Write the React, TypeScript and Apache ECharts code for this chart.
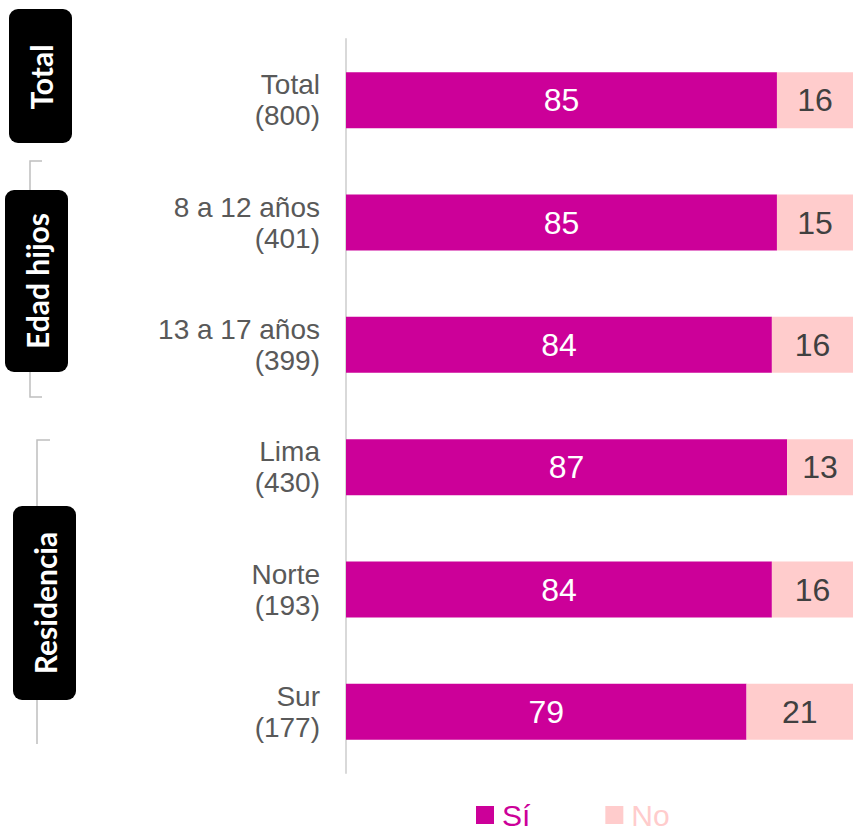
import React, { useEffect, useRef } from "react";
import * as echarts from "echarts";

const categories = ["Total\n(800)", "8 a 12 años\n(401)", "13 a 17 años\n(399)", "Lima\n(430)", "Norte\n(193)", "Sur\n(177)"];
const siValues = [85, 85, 84, 87, 84, 79];
const noValues = [16, 15, 16, 13, 16, 21];
const seriesNames = ["Sí", "No"];
const groupLabels = ["Total", "Edad hijos", "Residencia"];

const SI_COLOR = "#CC0099";
const NO_COLOR = "#FFCCCC";

export default function App() {
  const ref = useRef<HTMLDivElement>(null);
  useEffect(() => {
    if (!ref.current) return;
    const chart = echarts.init(ref.current, null, { renderer: "svg" });
    const boxFont = "bold 30px Lato";
    chart.setOption({
      animation: false,
      backgroundColor: "#ffffff",
      grid: { left: 346, right: 1, top: 39, bottom: 63, containLabel: false },
      xAxis: { type: "value", min: 0, max: 100, show: false },
      yAxis: {
        type: "category",
        inverse: true,
        data: categories,
        axisLine: { show: true, lineStyle: { color: "#D9D9D9", width: 2 } },
        axisTick: { show: false },
        axisLabel: {
          margin: 26,
          fontSize: 28,
          lineHeight: 31,
          color: "#595959",
          fontFamily: "Liberation Sans, Arial, sans-serif",
          align: "right",
        },
        splitLine: { show: false },
      },
      legend: {
        left: 476,
        top: 799,
        padding: 0,
        icon: "rect",
        itemWidth: 18,
        itemHeight: 18,
        itemGap: 75,
        textStyle: {
          fontSize: 30,
          lineHeight: 32,
          fontFamily: "Liberation Sans, Arial, sans-serif",
          padding: [0, 0, 0, 3],
        },
        data: [
          { name: seriesNames[0], textStyle: { color: SI_COLOR } },
          { name: seriesNames[1], textStyle: { color: NO_COLOR } },
        ],
      },
      series: [
        {
          name: seriesNames[0],
          type: "bar",
          stack: "a",
          barWidth: 56,
          data: siValues,
          itemStyle: { color: SI_COLOR },
          label: {
            show: true,
            position: "inside",
            color: "#ffffff",
            fontSize: 32,
            fontFamily: "Liberation Sans, Arial, sans-serif",
          },
        },
        {
          name: seriesNames[1],
          type: "bar",
          stack: "a",
          barWidth: 56,
          data: noValues,
          itemStyle: { color: NO_COLOR },
          label: {
            show: true,
            position: "inside",
            color: "#404040",
            fontSize: 32,
            fontFamily: "Liberation Sans, Arial, sans-serif",
          },
        },
      ],
      graphic: [
        {
          type: "polyline",
          shape: { points: [[42, 161], [30, 161], [30, 397], [42, 397]] },
          style: { stroke: "#BFBFBF", lineWidth: 1.5, fill: "none" },
          z: 1,
        },
        {
          type: "polyline",
          shape: { points: [[50, 440], [37, 440], [37, 744]] },
          style: { stroke: "#BFBFBF", lineWidth: 1.5, fill: "none" },
          z: 1,
        },
        { type: "rect", shape: { x: 9, y: 9, width: 63, height: 134, r: 9 }, style: { fill: "#000" }, z: 2 },
        { type: "rect", shape: { x: 5, y: 190, width: 63, height: 182, r: 9 }, style: { fill: "#000" }, z: 2 },
        { type: "rect", shape: { x: 13, y: 506, width: 63, height: 194, r: 9 }, style: { fill: "#000" }, z: 2 },
        {
          type: "text", x: 41, y: 77, rotation: Math.PI / 2, z: 3,
          style: { text: groupLabels[0], fill: "#fff", font: boxFont, align: "center", verticalAlign: "middle" },
        },
        {
          type: "text", x: 37, y: 281, rotation: Math.PI / 2, z: 3,
          style: { text: groupLabels[1], fill: "#fff", font: boxFont, align: "center", verticalAlign: "middle" },
        },
        {
          type: "text", x: 45, y: 603, rotation: Math.PI / 2, z: 3,
          style: { text: groupLabels[2], fill: "#fff", font: boxFont, align: "center", verticalAlign: "middle" },
        },
      ],
    });
    return () => chart.dispose();
  }, []);
  return (
    <div
      ref={ref}
      style={{ position: "fixed", left: 0, top: 0, width: 854, height: 836, background: "#fff" }}
    />
  );
}
